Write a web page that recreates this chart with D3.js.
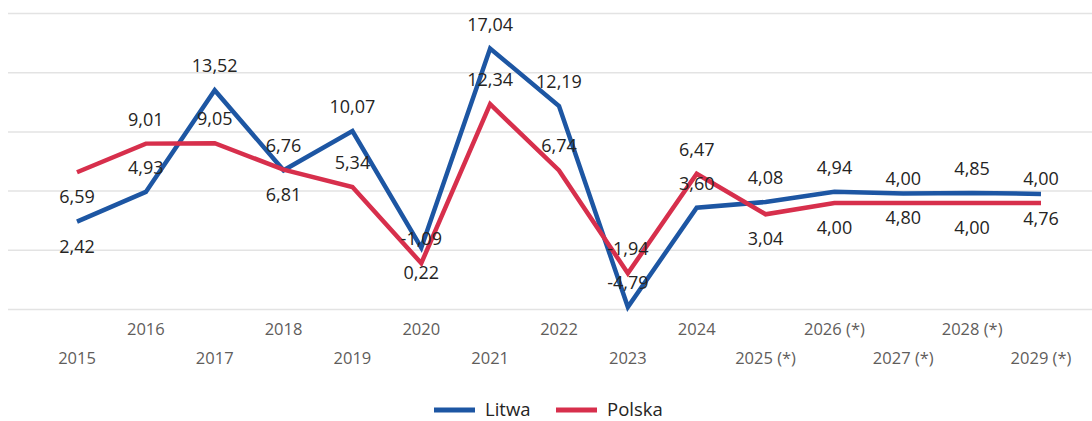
<!DOCTYPE html>
<html>
<head>
<meta charset="utf-8">
<script src="https://cdn.jsdelivr.net/npm/d3@7"></script>
<style>
  html, body { margin: 0; padding: 0; background: #fff; }
  svg { display: block; font-family: "Open Sans", "Noto Sans", sans-serif; }
</style>
</head>
<body>
<div id="chart"></div>
<script>
const years = ["2015", "2016", "2017", "2018", "2019", "2020", "2021", "2022",
  "2023", "2024", "2025 (*)", "2026 (*)", "2027 (*)", "2028 (*)", "2029 (*)"];

const litwa = [2.42, 4.93, 13.52, 6.76, 10.07, 0.22, 17.04, 12.19,
  -4.79, 3.60, 4.08, 4.94, 4.80, 4.85, 4.76];
const polska = [6.59, 9.01, 9.05, 6.81, 5.34, -1.09, 12.34, 6.74,
  -1.94, 6.47, 3.04, 4.00, 4.00, 4.00, 4.00];

// where the data label sits relative to its point
const litwaLabelSide = ["below", "above", "above", "above", "above", "below", "above", "above",
  "above", "above", "above", "above", "below", "above", "below"];
const polskaLabelSide = ["below", "above", "above", "below", "above", "above", "above", "above",
  "above", "above", "below", "below", "above", "below", "above"];

const yTicks = [-5, 0, 5, 10, 15, 20];

const series = [
  { name: "Litwa", values: litwa, sides: litwaLabelSide, color: "#1d56a3" },
  { name: "Polska", values: polska, sides: polskaLabelSide, color: "#d72f4c" },
];

const width = 1092;
const height = 421;

const svg = d3
  .select("#chart")
  .append("svg")
  .attr("width", width)
  .attr("height", height)
  .attr("viewBox", `0 0 ${width} ${height}`);

const x = d3.scalePoint().domain(years).range([77, 1041]);
const y = d3.scaleLinear().domain([-5, 20]).range([309.5, 13.5]);

// gridlines
svg
  .append("g")
  .selectAll("line")
  .data(yTicks)
  .join("line")
  .attr("x1", 8)
  .attr("x2", width)
  .attr("y1", (d) => y(d))
  .attr("y2", (d) => y(d))
  .attr("stroke", "#e3e3e3")
  .attr("stroke-width", 1.5);

// x axis labels, staggered on two rows
svg
  .append("g")
  .selectAll("text")
  .data(years)
  .join("text")
  .attr("x", (d) => x(d))
  .attr("y", (d, i) => (i % 2 ? 328 : 357))
  .attr("text-anchor", "middle")
  .attr("dominant-baseline", "central")
  .attr("fill", "#5f5d5b")
  .style("font-size", "16.5px")
  .text((d) => d);

const line = d3
  .line()
  .x((d, i) => x(years[i]))
  .y((d) => y(d));

svg
  .append("g")
  .selectAll("path")
  .data(series)
  .join("path")
  .attr("d", (s) => line(s.values))
  .attr("fill", "none")
  .attr("stroke", (s) => s.color)
  .attr("stroke-width", 4.5)
  .attr("stroke-linejoin", "miter");

const fmt = (v) => v.toFixed(2).replace(".", ",");

const labels = series.flatMap((s) =>
  s.values.map((v, i) => ({ v, i, side: s.sides[i] }))
);

svg
  .append("g")
  .selectAll("text")
  .data(labels)
  .join("text")
  .attr("x", (d) => x(years[d.i]))
  .attr("y", (d) => y(d.v) + (d.side === "above" ? -25 : 24))
  .attr("text-anchor", "middle")
  .attr("dominant-baseline", "central")
  .attr("fill", "#252423")
  .style("font-size", "18px")
  .text((d) => fmt(d.v));

// legend
const legend = svg.append("g").attr("transform", "translate(434, 410)");
const items = legend
  .selectAll("g")
  .data(series)
  .join("g")
  .attr("transform", (d, i) => `translate(${i * 122}, 0)`);
items
  .append("line")
  .attr("x1", 0)
  .attr("x2", 41)
  .attr("stroke", (d) => d.color)
  .attr("stroke-width", 5);
items
  .append("text")
  .attr("x", 51)
  .attr("y", 6)
  .attr("fill", "#252423")
  .style("font-size", "18.5px")
  .text((d) => d.name);
</script>
</body>
</html>
